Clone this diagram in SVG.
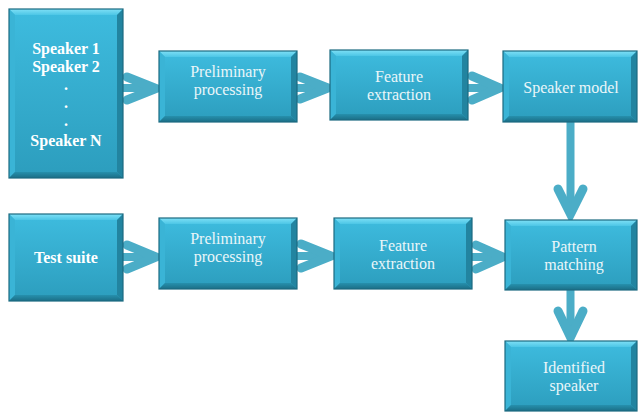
<svg xmlns="http://www.w3.org/2000/svg" width="639" height="412" viewBox="0 0 639 412">
<defs>
<linearGradient id="face" x1="0" y1="0" x2="0" y2="1">
<stop offset="0" stop-color="#3EBCDF"/>
<stop offset="1" stop-color="#2C9DBD"/>
</linearGradient>
<linearGradient id="topb" x1="0" y1="0" x2="0" y2="1">
<stop offset="0" stop-color="#7FE0F6"/>
<stop offset="1" stop-color="#4CC6E6"/>
</linearGradient>
<linearGradient id="botb" x1="0" y1="0" x2="0" y2="1">
<stop offset="0" stop-color="#2690AD"/>
<stop offset="1" stop-color="#1B6E86"/>
</linearGradient>
</defs>
<style>
.face{fill:url(#face)}
.tb{fill:url(#topb)}
.lb{fill:#3AB4D6}
.rb{fill:#2284A0}
.bb{fill:url(#botb)}
.edge{fill:none;stroke:#1B6A80;stroke-width:1.2}
.arr{fill:none;stroke:#4BADC7;stroke-width:9;stroke-linecap:round;stroke-linejoin:miter}
.shaft{fill:none;stroke:#4BADC7;stroke-width:8;stroke-linecap:butt}
</style>

<g id="connectors">
<path class="shaft" d="M123,88 H154"/><path class="arr" d="M127,77 L156,88.5 L127,100"/>
<path class="shaft" d="M297,88 H325"/><path class="arr" d="M300,77 L328,88 L300,99"/>
<path class="shaft" d="M468,88 H498"/><path class="arr" d="M472,76 L500,88 L472,100"/>
<path class="shaft" d="M570.5,122 V212"/><path class="arr" d="M558,189 L570.5,214 L583,189"/>
<path class="shaft" d="M123,257 H154"/><path class="arr" d="M127,245 L156,257 L127,269"/>
<path class="shaft" d="M297,256 H329"/><path class="arr" d="M301,244 L331,256 L301,268"/>
<path class="shaft" d="M472,257 H500"/><path class="arr" d="M476,245 L503,257 L476,269"/>
<path class="shaft" d="M570.5,290 V334"/><path class="arr" d="M558,311 L570.5,337 L583,311"/>
</g>

<g id="n_speakers">
<rect class="face" x="9" y="9" width="114" height="169"/>
<polygon class="tb" points="9,9 123,9 117,15 15,15"/>
<polygon class="lb" points="9,9 15,15 15,172 9,178"/>
<polygon class="rb" points="123,9 123,178 117,172 117,15"/>
<polygon class="bb" points="9,178 15,172 117,172 123,178"/>
<rect class="edge" x="9" y="9" width="114" height="169"/>
<text x="66" y="54" font-family="Liberation Serif" font-size="16" font-weight="bold" fill="#FFFFFF" text-anchor="middle">Speaker 1</text>
<text x="66" y="72" font-family="Liberation Serif" font-size="16" font-weight="bold" fill="#FFFFFF" text-anchor="middle">Speaker 2</text>
<text x="66" y="90" font-family="Liberation Serif" font-size="16" font-weight="bold" fill="#FFFFFF" text-anchor="middle">.</text>
<text x="66" y="108" font-family="Liberation Serif" font-size="16" font-weight="bold" fill="#FFFFFF" text-anchor="middle">.</text>
<text x="66" y="126" font-family="Liberation Serif" font-size="16" font-weight="bold" fill="#FFFFFF" text-anchor="middle">.</text>
<text x="66" y="146" font-family="Liberation Serif" font-size="16" font-weight="bold" fill="#FFFFFF" text-anchor="middle">Speaker N</text>
</g>

<g id="n_prelim1">
<rect class="face" x="159" y="51" width="138" height="71"/>
<polygon class="tb" points="159,51 297,51 291,57 165,57"/>
<polygon class="lb" points="159,51 165,57 165,116 159,122"/>
<polygon class="rb" points="297,51 297,122 291,116 291,57"/>
<polygon class="bb" points="159,122 165,116 291,116 297,122"/>
<rect class="edge" x="159" y="51" width="138" height="71"/>
<text x="228" y="77" font-family="Liberation Serif" font-size="16" fill="#EAF6F9" text-anchor="middle">Preliminary</text>
<text x="228" y="95" font-family="Liberation Serif" font-size="16" fill="#EAF6F9" text-anchor="middle">processing</text>
</g>

<g id="n_feat1">
<rect class="face" x="330" y="50" width="138" height="70"/>
<polygon class="tb" points="330,50 468,50 462,56 336,56"/>
<polygon class="lb" points="330,50 336,56 336,114 330,120"/>
<polygon class="rb" points="468,50 468,120 462,114 462,56"/>
<polygon class="bb" points="330,120 336,114 462,114 468,120"/>
<rect class="edge" x="330" y="50" width="138" height="70"/>
<text x="399" y="82" font-family="Liberation Serif" font-size="16" fill="#EAF6F9" text-anchor="middle">Feature</text>
<text x="399" y="100" font-family="Liberation Serif" font-size="16" fill="#EAF6F9" text-anchor="middle">extraction</text>
</g>

<g id="n_model">
<rect class="face" x="503" y="51" width="134" height="71"/>
<polygon class="tb" points="503,51 637,51 631,57 509,57"/>
<polygon class="lb" points="503,51 509,57 509,116 503,122"/>
<polygon class="rb" points="637,51 637,122 631,116 631,57"/>
<polygon class="bb" points="503,122 509,116 631,116 637,122"/>
<rect class="edge" x="503" y="51" width="134" height="71"/>
<text x="571" y="93" font-family="Liberation Serif" font-size="16" fill="#EAF6F9" text-anchor="middle">Speaker model</text>
</g>

<g id="n_test">
<rect class="face" x="9" y="214" width="114" height="87"/>
<polygon class="tb" points="9,214 123,214 117,220 15,220"/>
<polygon class="lb" points="9,214 15,220 15,295 9,301"/>
<polygon class="rb" points="123,214 123,301 117,295 117,220"/>
<polygon class="bb" points="9,301 15,295 117,295 123,301"/>
<rect class="edge" x="9" y="214" width="114" height="87"/>
<text x="66" y="263" font-family="Liberation Serif" font-size="16" font-weight="bold" fill="#FFFFFF" text-anchor="middle">Test suite</text>
</g>

<g id="n_prelim2">
<rect class="face" x="159" y="218" width="138" height="71"/>
<polygon class="tb" points="159,218 297,218 291,224 165,224"/>
<polygon class="lb" points="159,218 165,224 165,283 159,289"/>
<polygon class="rb" points="297,218 297,289 291,283 291,224"/>
<polygon class="bb" points="159,289 165,283 291,283 297,289"/>
<rect class="edge" x="159" y="218" width="138" height="71"/>
<text x="228" y="244" font-family="Liberation Serif" font-size="16" fill="#EAF6F9" text-anchor="middle">Preliminary</text>
<text x="228" y="262" font-family="Liberation Serif" font-size="16" fill="#EAF6F9" text-anchor="middle">processing</text>
</g>

<g id="n_feat2">
<rect class="face" x="334" y="218" width="138" height="71"/>
<polygon class="tb" points="334,218 472,218 466,224 340,224"/>
<polygon class="lb" points="334,218 340,224 340,283 334,289"/>
<polygon class="rb" points="472,218 472,289 466,283 466,224"/>
<polygon class="bb" points="334,289 340,283 466,283 472,289"/>
<rect class="edge" x="334" y="218" width="138" height="71"/>
<text x="403" y="251" font-family="Liberation Serif" font-size="16" fill="#EAF6F9" text-anchor="middle">Feature</text>
<text x="403" y="269" font-family="Liberation Serif" font-size="16" fill="#EAF6F9" text-anchor="middle">extraction</text>
</g>

<g id="n_pattern">
<rect class="face" x="505" y="220" width="132" height="70"/>
<polygon class="tb" points="505,220 637,220 631,226 511,226"/>
<polygon class="lb" points="505,220 511,226 511,284 505,290"/>
<polygon class="rb" points="637,220 637,290 631,284 631,226"/>
<polygon class="bb" points="505,290 511,284 631,284 637,290"/>
<rect class="edge" x="505" y="220" width="132" height="70"/>
<text x="574" y="252" font-family="Liberation Serif" font-size="16" fill="#EAF6F9" text-anchor="middle">Pattern</text>
<text x="574" y="270" font-family="Liberation Serif" font-size="16" fill="#EAF6F9" text-anchor="middle">matching</text>
</g>

<g id="n_identified">
<rect class="face" x="505" y="341" width="132" height="70"/>
<polygon class="tb" points="505,341 637,341 631,347 511,347"/>
<polygon class="lb" points="505,341 511,347 511,405 505,411"/>
<polygon class="rb" points="637,341 637,411 631,405 631,347"/>
<polygon class="bb" points="505,411 511,405 631,405 637,411"/>
<rect class="edge" x="505" y="341" width="132" height="70"/>
<text x="574" y="373" font-family="Liberation Serif" font-size="16" fill="#EAF6F9" text-anchor="middle">Identified</text>
<text x="574" y="391" font-family="Liberation Serif" font-size="16" fill="#EAF6F9" text-anchor="middle">speaker</text>
</g>
</svg>
